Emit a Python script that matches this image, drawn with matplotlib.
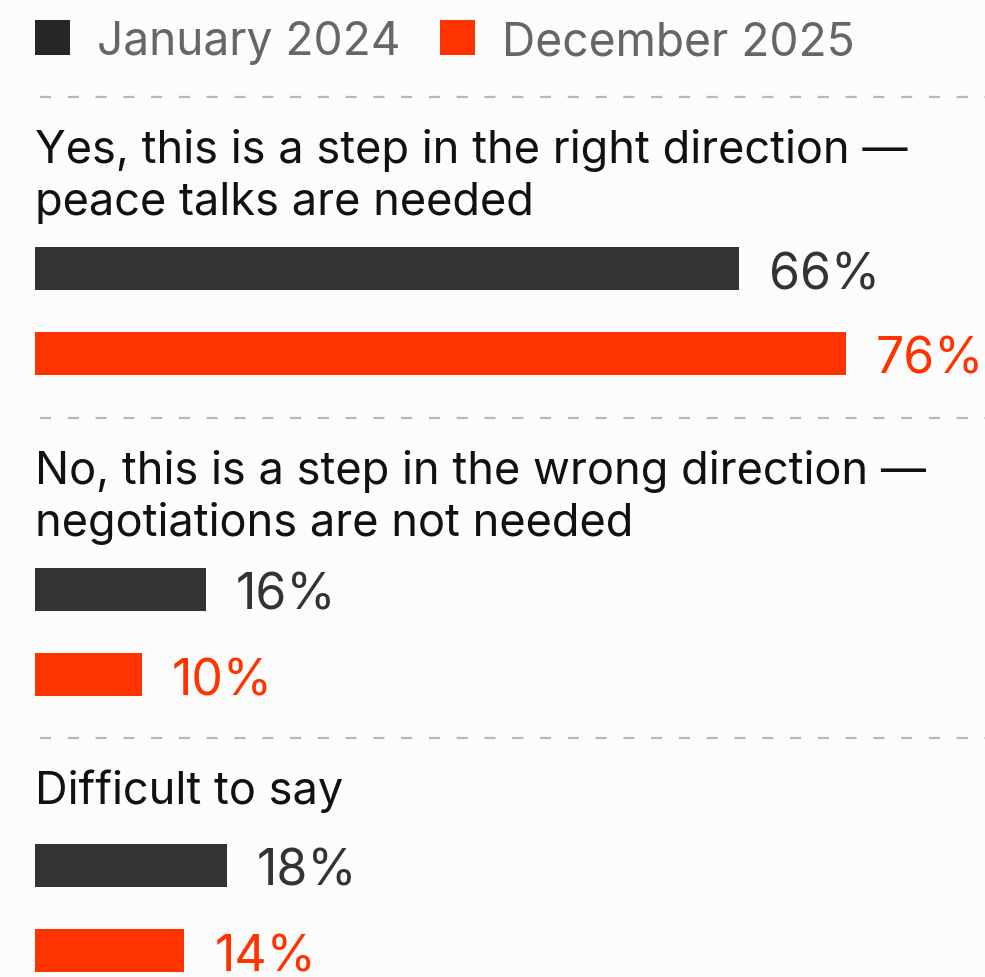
import numpy as np
import matplotlib.pyplot as plt
from matplotlib.patches import Rectangle

# Data
categories = [
    "Yes, this is a step in the right direction —\npeace talks are needed",
    "No, this is a step in the wrong direction —\nnegotiations are not needed",
    "Difficult to say",
]
series_names = ["January 2024", "December 2025"]
jan_2024 = [66, 16, 18]
dec_2025 = [76, 10, 14]

colors = ["#333333", "#ff3300"]
legend_colors = ["#262626", "#ff3300"]
bg = "#fcfcfc"
font = "Inter"

W, H = 985, 977
fig = plt.figure(figsize=(W / 100, H / 100), dpi=100, facecolor=bg)
px_per_pct = 10.67
left_px = 35
ax = fig.add_axes([left_px / W, 0, (W - left_px) / W, 1])
ax.set_facecolor(bg)
ax.set_xlim(0, (W - left_px) / px_per_pct)
ax.set_ylim(H, 0)
ax.axis("off")

def px(x):
    # pixel x -> data x
    return (x - left_px) / px_per_pct

# Legend
leg_x = [35, 440]
for i, name in enumerate(series_names):
    ax.add_patch(Rectangle((px(leg_x[i]), 20), 35 / px_per_pct, 35,
                           color=legend_colors[i], lw=0))
    ax.text(px(leg_x[i] + 62), 55, name, fontsize=33.2, color="#666666",
            family=font, va="baseline", ha="left")

# Groups
sep_y = [97, 418, 738]
line_h = 52
bar_h = 43
values = [jan_2024, dec_2025]
for g, cat in enumerate(categories):
    top = sep_y[g]
    ax.plot([px(40), px(W)], [top, top], color="#b8b8b8", lw=1.6,
            linestyle=(0, (5, 7.5)), solid_capstyle="butt")
    lines = cat.split("\n")
    for k, ln in enumerate(lines):
        ax.text(0, top + 66 + k * line_h, ln, fontsize=32.5, color="#111111",
                family=font, va="baseline", ha="left")
    first = top + 127 + 44 * (len(lines) - 1)
    for s in range(2):
        yc = first + s * 85
        v = values[s][g]
        ax.barh(yc, v, height=bar_h, color=colors[s], left=0)
        ax.text(v + 30 / px_per_pct, yc + 21, f"{v}%", fontsize=36,
                color=colors[s], family=font, va="baseline", ha="left")

fig.savefig("out.png", dpi=100, facecolor=bg)
